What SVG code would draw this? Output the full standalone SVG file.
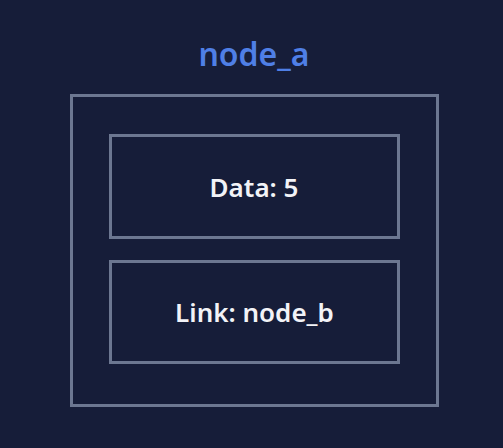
<svg xmlns="http://www.w3.org/2000/svg" width="503" height="448" viewBox="0 0 503 448">
<style>
.box{fill:none;stroke:#6c7791;stroke-width:3}
.lbl{font-family:"Noto Sans","Open Sans",sans-serif;font-weight:600;font-size:26px;fill:#f2f3f7;text-anchor:middle}
.title{font-family:"Noto Sans","Open Sans",sans-serif;font-weight:600;font-size:32px;fill:#4f7fe6;text-anchor:middle}
</style>
<rect width="503" height="448" fill="#161d39"/>
<g id="node_a">
<text class="title" x="254" y="66">node_a</text>
<rect class="box" x="71.5" y="95.5" width="366" height="310"/>
</g>
<g id="data">
<rect class="box" x="110.5" y="135.5" width="288" height="102"/>
<text class="lbl" x="254" y="197">Data: 5</text>
</g>
<g id="link">
<rect class="box" x="110.5" y="261.5" width="288" height="101"/>
<text class="lbl" x="254.5" y="322">Link: node_b</text>
</g>
<g id="connectors"/>
</svg>
